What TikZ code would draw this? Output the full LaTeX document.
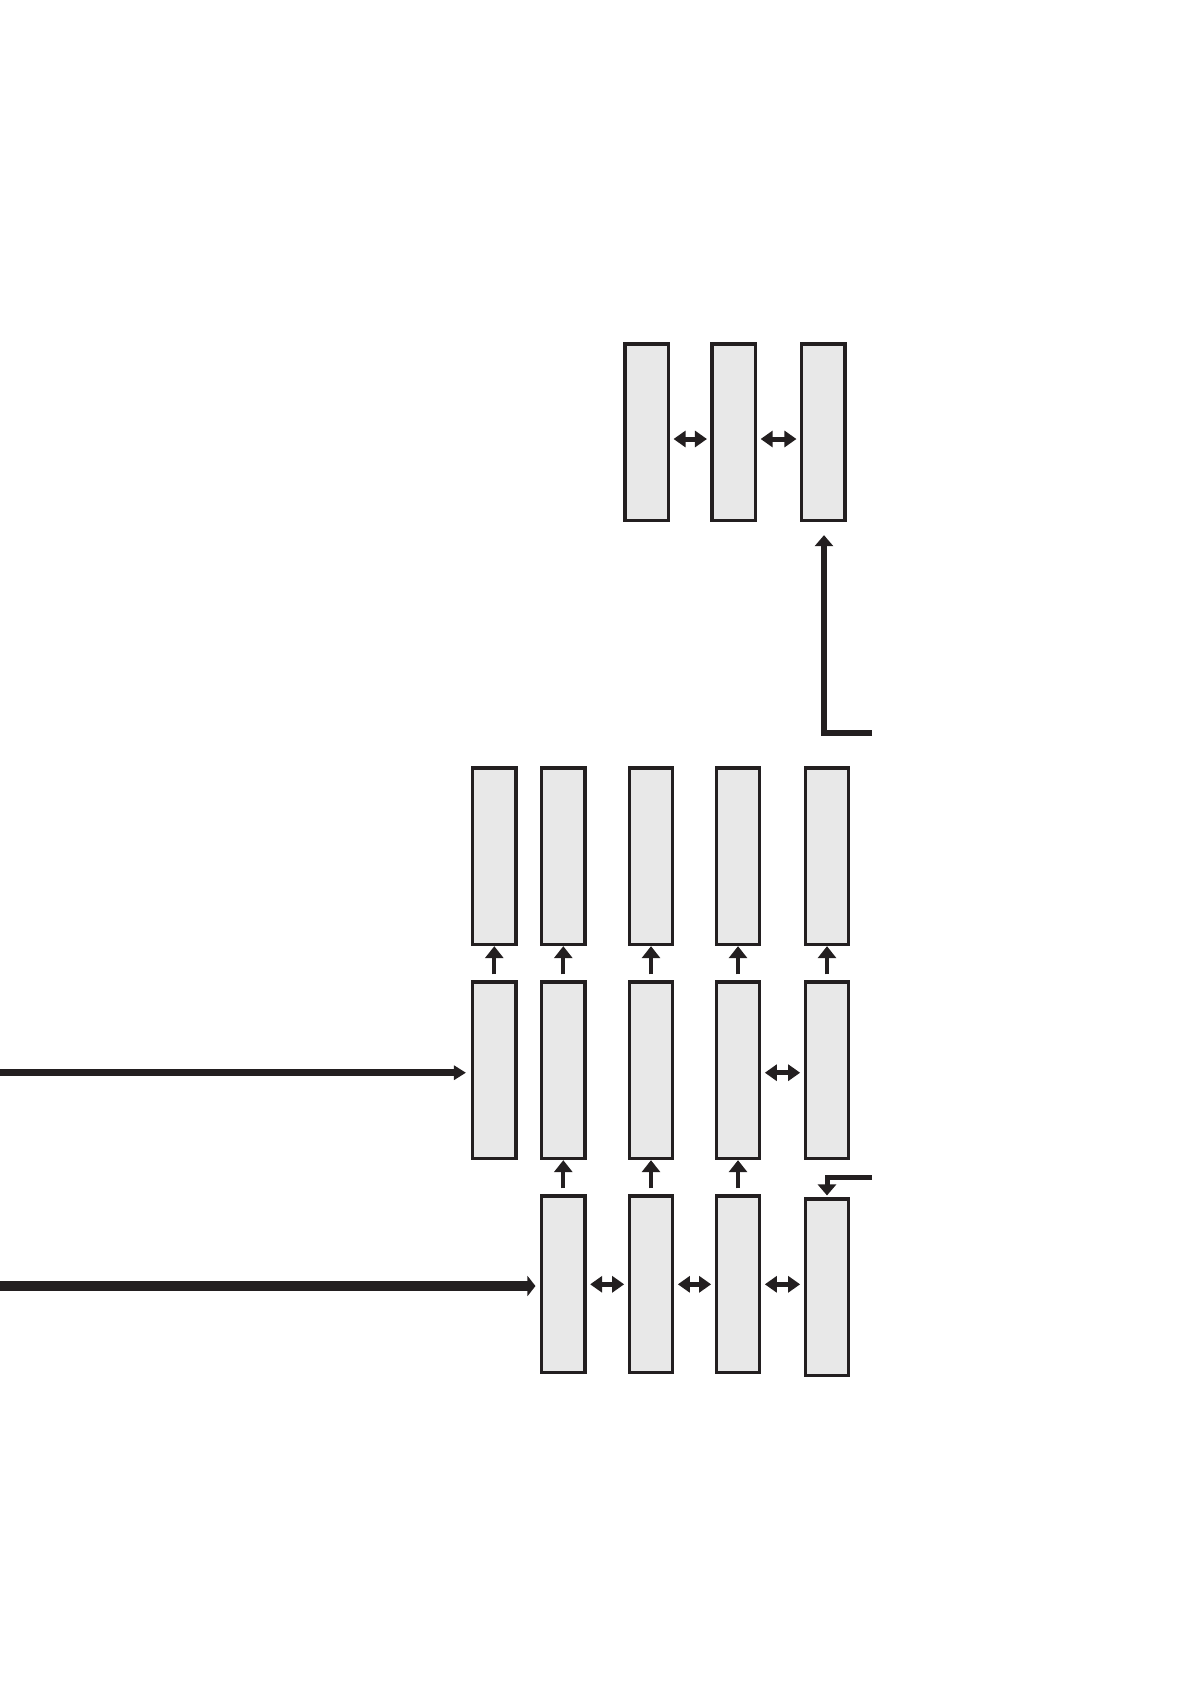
\documentclass[tikz,border=0pt]{standalone}
\usetikzlibrary{arrows.meta,positioning}
\definecolor{ink}{HTML}{231F20}
\definecolor{cell}{HTML}{E8E8E8}
\tikzset{
  cellbox/.style={
    draw=ink, fill=cell, rectangle, line width=3.3pt, inner sep=0pt,
    minimum width=43.4pt, minimum height=176.4pt
  },
  swap/.style={
    {Triangle[length=12pt,width=16pt]}-{Triangle[length=12pt,width=16pt]},
    draw=ink, line width=5pt, shorten <=3.5pt, shorten >=3.5pt
  },
  lift/.style={
    -{Triangle[length=12pt,width=18pt]}, draw=ink, line width=4.3pt,
    shorten <=6pt
  },
  feed/.style={
    -{Triangle[length=11pt,width=18pt]}, draw=ink, line width=5.7pt
  },
  feedin/.style={
    -{Triangle[length=12pt,width=14pt]}, draw=ink, line width=6.7pt,
    shorten >=5pt
  },
  feedmain/.style={
    -{Triangle[length=8pt,width=20pt]}, draw=ink, line width=10pt,
    shorten >=4.5pt
  },
}
\begin{document}
\begin{tikzpicture}[x=1pt,y=-1pt,node distance=34.3pt]
  \useasboundingbox (0,0) rectangle (1191,1684);

  % top group
  \node[cellbox] (t1) at (646.7,432.3) {};
  \node[cellbox] (t2) at (733.8,432.3) {};
  \node[cellbox] (t3) at (823.3,432.3) {};
  \draw[swap] ([yshift=-6.7pt]t1.east) -- ([yshift=-6.7pt]t2.west);
  \draw[swap] ([yshift=-6.7pt]t2.east) -- ([yshift=-6.7pt]t3.west);

  % middle row
  \node[cellbox] (b0) at (494.3,1070.3) {};
  \node[cellbox] (b1) at (563.3,1070.3) {};
  \node[cellbox] (b2) at (651,1070.3) {};
  \node[cellbox] (b3) at (738,1070.3) {};
  \node[cellbox] (b4) at (827,1070.3) {};
  \draw[swap] ([yshift=-2.4pt]b3.east) -- ([yshift=-2.4pt]b4.west);

  % upper row
  \node[cellbox, above=of b0] (a0) {};
  \node[cellbox, above=of b1] (a1) {};
  \node[cellbox, above=of b2] (a2) {};
  \node[cellbox, above=of b3] (a3) {};
  \node[cellbox, above=of b4] (a4) {};
  \draw[lift] (b0) -- (a0);
  \draw[lift] (b1) -- (a1);
  \draw[lift] (b2) -- (a2);
  \draw[lift] (b3) -- (a3);
  \draw[lift] (b4) -- (a4);

  % lower row
  \node[cellbox, below=of b1] (c1) {};
  \node[cellbox, below=of b2] (c2) {};
  \node[cellbox, below=of b3] (c3) {};
  \node[cellbox, below=37.3pt of b4] (c4) {};
  \draw[lift] (c1) -- (b1);
  \draw[lift] (c2) -- (b2);
  \draw[lift] (c3) -- (b3);
  \draw[swap] (c1) -- (c2);
  \draw[swap] (c2) -- (c3);
  \draw[swap] (c3.east) -- (c3.east -| c4.west);

  % inputs and feedback
  \coordinate (inA) at (0,1072.7);
  \coordinate (inB) at (0,1286);
  \coordinate (backA) at (872,732.7);
  \coordinate (backB) at (872,1177);
  \draw[feedin] (inA) -- (inA -| b0.west);
  \draw[feedmain] (inB) -- (inB -| c1.west);
  \draw[feed, shorten >=13pt] (backA) -| ([xshift=0.7pt]t3.south);
  \draw[feed, line width=5pt, shorten >=2pt] (backB) -| (c4.north);
\end{tikzpicture}
\end{document}
